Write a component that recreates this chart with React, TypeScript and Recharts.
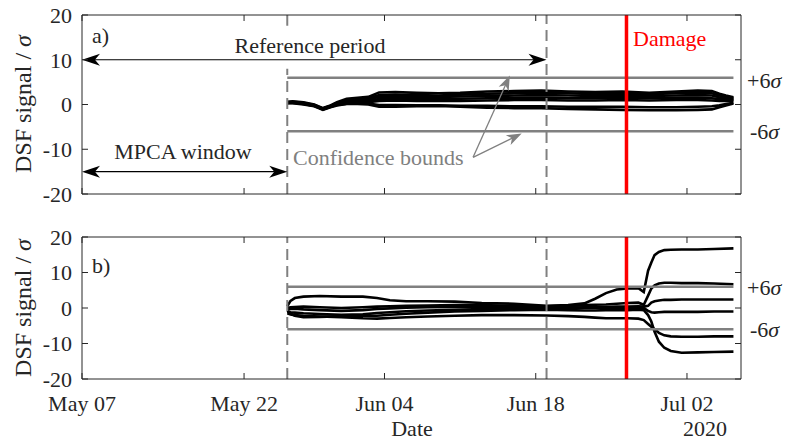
import React from 'react';
import { LineChart, Line, XAxis, YAxis, ReferenceLine } from 'recharts';

// ---------- data ----------
const dateTicks = [0, 15, 28, 42, 56];
const dateLabels = ['May 07', 'May 22', 'Jun 04', 'Jun 18', 'Jul 02'];
const yTicks = [-20, -10, 0, 10, 20];
const xDomain = [0, 61];
const mpcaStart = 19;
const refEnd = 43;
const damageDay = 50.4;
const boundsEnd = 60.3;
const bound = 6;

const daysA = [19, 19.5, 20.5, 21.5, 22.3, 23, 23.6, 24.5, 25.5, 26.5, 27.5, 29, 31, 33, 35, 37.5, 40, 42.5, 45, 47.5, 50, 52.5, 55, 57, 58.3, 59, 59.6, 60.3];
const a1 = [0.6, 0.7, 0.5, 0.0, -0.8, -0.2, 0.5, 1.3, 1.5, 1.7, 2.7, 2.8, 2.6, 2.5, 2.6, 2.9, 3.0, 3.1, 2.9, 2.8, 2.9, 2.6, 2.9, 3.1, 3.0, 2.4, 2.0, 1.6];
const a2 = [0.5, 0.6, 0.4, -0.1, -0.9, -0.3, 0.3, 1.0, 1.2, 1.4, 2.1, 2.2, 2.1, 2.0, 2.2, 2.4, 2.5, 2.6, 2.5, 2.3, 2.4, 2.3, 2.5, 2.6, 2.5, 2.0, 1.7, 1.4];
const a3 = [0.5, 0.5, 0.3, -0.2, -1.0, -0.4, 0.2, 0.8, 1.0, 1.1, 1.7, 1.8, 1.7, 1.7, 1.8, 1.9, 2.0, 2.1, 2.0, 1.9, 2.0, 1.9, 2.0, 2.1, 2.0, 1.6, 1.4, 1.2];
const a4 = [0.4, 0.5, 0.2, -0.2, -1.0, -0.4, 0.1, 0.6, 0.7, 0.8, 1.2, 1.3, 1.3, 1.3, 1.3, 1.4, 1.5, 1.5, 1.4, 1.4, 1.5, 1.4, 1.5, 1.5, 1.4, 1.2, 1.1, 1.0];
const a5 = [0.4, 0.4, 0.2, -0.3, -1.1, -0.5, 0.0, 0.4, 0.5, 0.5, 0.8, 0.9, 0.8, 0.8, 0.8, 0.9, 1.0, 1.0, 0.9, 0.9, 1.0, 0.9, 1.0, 1.0, 0.9, 0.8, 0.8, 0.8];
const a6 = [0.3, 0.4, 0.1, -0.3, -1.1, -0.5, -0.1, 0.2, 0.3, 0.2, -0.1, -0.1, -0.2, -0.2, -0.3, -0.3, -0.4, -0.4, -0.5, -0.5, -0.5, -0.6, -0.6, -0.5, -0.4, -0.2, 0.1, 0.4];
const a7 = [0.3, 0.3, 0.0, -0.4, -1.2, -0.6, -0.2, 0.1, 0.1, 0.0, -0.5, -0.5, -0.4, -0.3, -0.5, -0.7, -0.8, -0.8, -1.0, -1.1, -1.2, -1.3, -1.3, -1.2, -1.1, -0.6, -0.2, 0.2];

const daysB = [19, 19.3, 19.7, 20.5, 22, 24, 26, 27.3, 28.5, 30, 32, 34.5, 37, 40, 43, 45, 46.5, 47.5, 48.5, 49.5, 50.5, 51.5, 52, 52.4, 52.7, 53, 53.4, 53.9, 54.5, 55.5, 57, 58.5, 60.3];
const b1 = [0.5, 2.0, 2.8, 3.2, 3.4, 3.2, 3.2, 2.8, 2.2, 1.9, 1.9, 1.8, 1.4, 1.2, 0.6, 0.8, 1.3, 2.6, 4.2, 5.2, 5.5, 5.6, 4.5, 10.5, 12.8, 14.9, 15.8, 16.3, 16.4, 16.5, 16.5, 16.6, 16.8];
const b2 = [0.0, 0.2, 0.3, 0.4, 0.2, 0.0, 0.2, 0.4, 0.5, 0.6, 0.7, 0.8, 0.8, 0.6, 0.5, 0.6, 0.8, 0.9, 1.0, 1.2, 1.4, 1.5, 0.9, 3.5, 5.5, 6.4, 6.9, 7.1, 7.1, 7.0, 7.0, 6.9, 6.7];
const b3 = [-0.5, -0.3, -0.2, -0.4, -0.6, -0.8, -0.6, -0.3, -0.1, 0.1, 0.2, 0.3, 0.4, 0.3, 0.2, 0.1, 0.2, 0.2, 0.3, 0.4, 0.4, 0.5, 0.4, 0.6, 1.5, 1.9, 2.1, 2.3, 2.3, 2.4, 2.4, 2.4, 2.4];
const b4 = [-1.0, -1.2, -1.3, -1.5, -1.7, -1.9, -1.8, -1.4, -1.2, -0.9, -0.7, -0.5, -0.3, -0.2, -0.2, -0.1, 0.0, 0.0, 0.1, 0.1, 0.1, 0.1, 0.0, -0.8, -1.2, -1.3, -1.2, -1.1, -1.1, -1.1, -1.1, -1.0, -1.0];
const b5 = [-1.5, -1.8, -2.0, -2.2, -2.4, -2.6, -2.9, -3.0, -2.8, -2.6, -2.4, -2.2, -2.0, -2.0, -2.1, -2.3, -2.5, -2.7, -2.9, -2.9, -2.9, -3.0, -3.4, -4.5, -5.3, -6.0, -7.0, -7.7, -8.0, -8.1, -8.1, -8.0, -8.0];
const b6 = [-0.8, -1.5, -2.2, -2.6, -2.5, -2.3, -2.2, -2.2, -1.9, -1.6, -1.3, -1.0, -0.8, -0.6, -0.5, -0.6, -0.7, -0.7, -0.6, -0.6, -0.6, -0.5, -0.6, -2.0, -3.8, -6.7, -9.5, -11.2, -12.1, -12.6, -12.5, -12.4, -12.3];

const seriesA = [a1, a2, a3, a4, a5, a6, a7];
const seriesB = [b1, b2, b3, b4, b5, b6];

// ---------- helpers ----------
const buildRows = (days: number[], series: number[][]) =>
  days.map((d, i) => {
    const row: Record<string, number> = { x: d };
    series.forEach((s, k) => { row['s' + k] = s[i]; });
    return row;
  });

const rowsA = buildRows(daysA, seriesA);
const rowsB = buildRows(daysB, seriesB);

const FONT = '"Liberation Serif", "Times New Roman", serif';
const AX = '#262626';
const GREY = '#808080';

const arrowShape = (color: string, sw: number, L: number, W: number, both: boolean) => (p: any) => {
  const { x1, y1, x2, y2 } = p;
  const dx = x2 - x1, dy = y2 - y1;
  const len = Math.hypot(dx, dy) || 1;
  const ux = dx / len, uy = dy / len;
  const px = -uy, py = ux;
  const head = (tx: number, ty: number, sx: number, sy: number) => {
    const bx = tx - sx * L, by = ty - sy * L;
    const nx = tx - sx * L * 0.72, ny = ty - sy * L * 0.72;
    return `${tx},${ty} ${bx + px * W / 2},${by + py * W / 2} ${nx},${ny} ${bx - px * W / 2},${by - py * W / 2}`;
  };
  const sx1 = both ? x1 + ux * L * 0.7 : x1;
  const sy1 = both ? y1 + uy * L * 0.7 : y1;
  return (
    <g>
      <line x1={sx1} y1={sy1} x2={x2 - ux * L * 0.7} y2={y2 - uy * L * 0.7} stroke={color} strokeWidth={sw} />
      <polygon points={head(x2, y2, ux, uy)} fill={color} />
      {both && <polygon points={head(x1, y1, -ux, -uy)} fill={color} />}
    </g>
  );
};

const axisCommon = {
  stroke: AX,
  tick: { fill: AX, fontSize: 22, fontFamily: FONT },
  tickLine: { stroke: AX },
};

function Panel({ rows, n, top, height, mTop, bottomH, showLabels, splitDash }: any) {
  return (
    <div style={{ position: 'absolute', left: 0, top, width: 789, height }}>
      <LineChart width={789} height={height} data={rows} margin={{ top: mTop, right: 47, bottom: 0, left: 0 }}>
        <XAxis
          {...axisCommon}
          type="number"
          dataKey="x"
          domain={xDomain}
          ticks={dateTicks}
          interval={0}
          allowDataOverflow
          height={bottomH}
          tickSize={-6}
          tickMargin={showLabels ? 22 : 0}
          tickFormatter={(v: number) => (showLabels ? dateLabels[dateTicks.indexOf(v)] : '')}
        />
        <XAxis
          {...axisCommon}
          xAxisId="t"
          orientation="top"
          type="number"
          dataKey="x"
          domain={xDomain}
          ticks={dateTicks}
          interval={0}
          allowDataOverflow
          height={1}
          tickSize={-6}
          tickFormatter={() => ''}
        />
        <YAxis
          {...axisCommon}
          type="number"
          domain={[-20, 20]}
          ticks={yTicks}
          interval={0}
          allowDataOverflow
          width={82}
          tickSize={-6}
          tickMargin={16}
        />
        <YAxis
          {...axisCommon}
          yAxisId="r"
          orientation="right"
          type="number"
          domain={[-20, 20]}
          ticks={yTicks}
          interval={0}
          allowDataOverflow
          width={1}
          tickSize={-6}
          tickFormatter={() => ''}
        />
        {Array.from({ length: n }, (_, k) => (
          <Line
            key={k}
            dataKey={'s' + k}
            stroke="#000"
            strokeWidth={2.6}
            dot={false}
            activeDot={false}
            isAnimationActive={false}
            type="linear"
          />
        ))}
        <ReferenceLine segment={[{ x: mpcaStart, y: bound }, { x: boundsEnd, y: bound }]} stroke={GREY} strokeWidth={2.5} />
        <ReferenceLine segment={[{ x: mpcaStart, y: -bound }, { x: boundsEnd, y: -bound }]} stroke={GREY} strokeWidth={2.5} />
        {splitDash ? (
          <>
            <ReferenceLine segment={[{ x: mpcaStart, y: -20 }, { x: mpcaStart, y: 8 }]} stroke={GREY} strokeWidth={2} strokeDasharray="11 6" />
            <ReferenceLine segment={[{ x: mpcaStart, y: 20 }, { x: mpcaStart, y: 17.6 }]} stroke={GREY} strokeWidth={2} />
          </>
        ) : (
          <ReferenceLine x={mpcaStart} stroke={GREY} strokeWidth={2} strokeDasharray="11 6" />
        )}
        <ReferenceLine x={refEnd} stroke={GREY} strokeWidth={2} strokeDasharray="11 6" />
        <ReferenceLine x={damageDay} stroke="#ff0000" strokeWidth={3.5} />
        {splitDash && (
          <>
            <ReferenceLine segment={[{ x: 0, y: 10 }, { x: refEnd, y: 10 }]} shape={arrowShape('#000', 1.2, 18, 12, true)} />
            <ReferenceLine segment={[{ x: 0, y: -15 }, { x: mpcaStart, y: -15 }]} shape={arrowShape('#000', 1.2, 18, 12, true)} />
            <ReferenceLine segment={[{ x: 36.2, y: -11.8 }, { x: 39.6, y: 6.5 }]} shape={arrowShape(GREY, 1.3, 15, 11, false)} />
            <ReferenceLine segment={[{ x: 36.2, y: -11.8 }, { x: 40.7, y: -6.5 }]} shape={arrowShape(GREY, 1.3, 15, 11, false)} />
          </>
        )}
      </LineChart>
    </div>
  );
}

const Sig = () => <tspan fontStyle="italic">σ</tspan>;

export default function App() {
  const t = { fontFamily: FONT, fontSize: 22 };
  return (
    <div style={{ position: 'absolute', left: 0, top: 0, width: 789, height: 441, background: '#fff', overflow: 'hidden' }}>
      <Panel rows={rowsA} n={seriesA.length} top={0} height={210} mTop={14} bottomH={16} showLabels={false} splitDash />
      <Panel rows={rowsB} n={seriesB.length} top={210} height={231} mTop={26} bottomH={62} showLabels splitDash={false} />
      <svg width={789} height={441} style={{ position: 'absolute', left: 0, top: 0, pointerEvents: 'none' }}>
        <g style={t} fill={AX}>
          <text transform="translate(31,104) rotate(-90)" textAnchor="middle" fontSize={24}>DSF signal / <Sig /></text>
          <text transform="translate(31,308) rotate(-90)" textAnchor="middle" fontSize={24}>DSF signal / <Sig /></text>
          <text x={92} y={35} dominantBaseline="central">a)</text>
          <text x={92} y={265} dominantBaseline="central">b)</text>
          <text x={310} y={45} textAnchor="middle" dominantBaseline="central">Reference period</text>
          <text x={183} y={151} textAnchor="middle" dominantBaseline="central">MPCA window</text>
          <text x={293} y={157} dominantBaseline="central" fill={GREY}>Confidence bounds</text>
          <text x={633} y={38} dominantBaseline="central" fill="#ff0000">Damage</text>
          <text x={747} y={80} dominantBaseline="central">+6<Sig /></text>
          <text x={750} y={131} dominantBaseline="central">-6<Sig /></text>
          <text x={747} y={287} dominantBaseline="central">+6<Sig /></text>
          <text x={750} y={329} dominantBaseline="central">-6<Sig /></text>
          <text x={412} y={428} textAnchor="middle" dominantBaseline="central">Date</text>
          <text x={705} y={428} textAnchor="middle" dominantBaseline="central">2020</text>
        </g>
      </svg>
    </div>
  );
}
